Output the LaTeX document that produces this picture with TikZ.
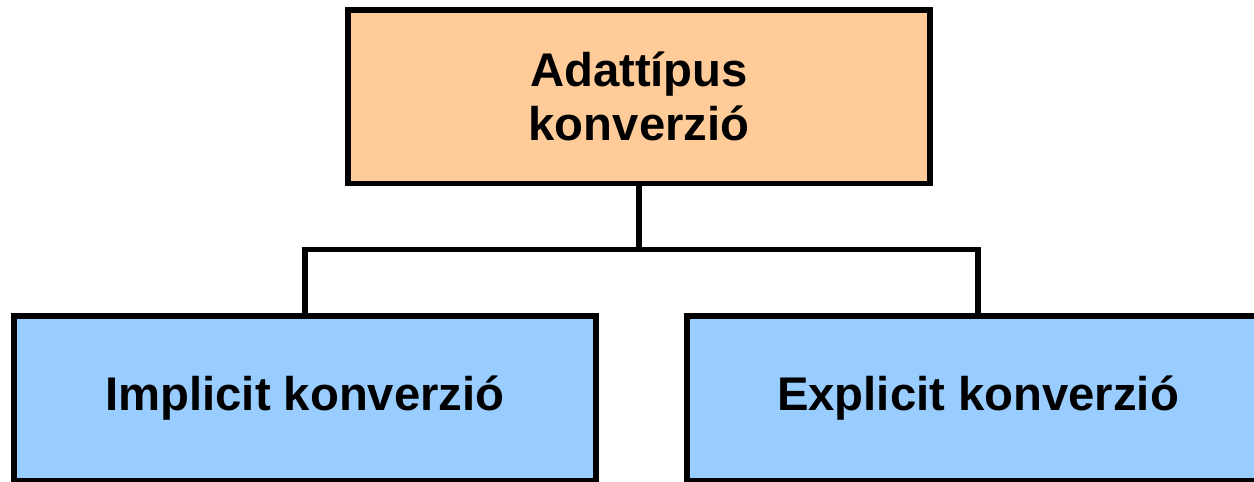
\documentclass[tikz,border=0pt]{standalone}
\usepackage{fontspec}
\setmainfont{Liberation Sans}
\definecolor{orangefill}{HTML}{FFCC99}
\definecolor{bluefill}{HTML}{99CCFF}
\begin{document}
\begin{tikzpicture}[x=0.02cm, y=-0.02cm, line width=3.4pt,
    box/.style={draw=black, minimum width=11.64cm, inner sep=0pt, align=center,
        font=\bfseries\fontsize{26.9}{30.7}\selectfont}]
        \useasboundingbox (0,0) rectangle (1254,481);
        \clip (0,0) rectangle (1254,481);

        \node[box, fill=orangefill, minimum height=3.47cm] (conv) at (639,96.75) {Adattípus\\konverzió};
        \node[box, fill=bluefill, minimum height=3.3cm] (impl) at (305,398.5) {Implicit konverzió};
        \node[box, fill=bluefill, minimum height=3.3cm] (expl) at (978,398.5) {Explicit konverzió};

        \coordinate (bar) at (639,249.5);
        \draw (conv.south) -- (bar) -| (impl.north);
        \draw (bar) -| (expl.north);

    \end{tikzpicture}
\end{document}
